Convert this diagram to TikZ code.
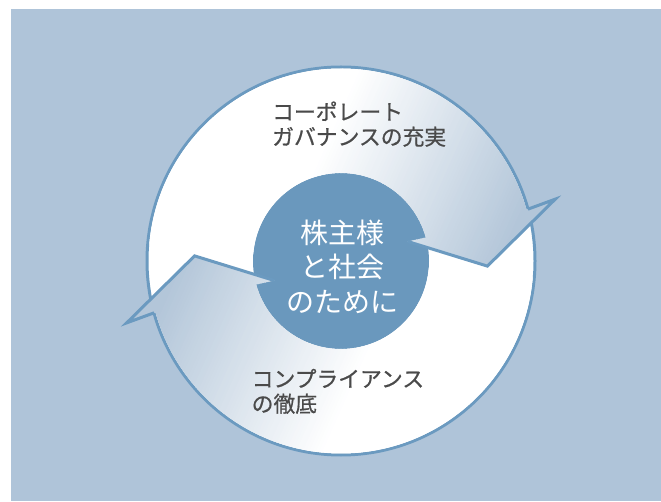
\documentclass[tikz,border=0pt]{standalone}
\usepackage{fontspec}
\newfontfamily\jpfont{Noto Sans CJK JP}[FakeBold=0.7]
\newfontfamily\jpcore{Noto Sans CJK JP}
\definecolor{bgblue}{HTML}{AFC4D9}
\definecolor{rimblue}{HTML}{6B9AC0}
\definecolor{coreblue}{HTML}{6A98BD}
\definecolor{fadeblue}{HTML}{B3C6D9}
\definecolor{labelgray}{HTML}{4A4A4A}
\begin{document}
\begin{tikzpicture}[x=1pt,y=1pt,
  rim/.style={draw=rimblue, line width=3pt},
  headedge/.style={draw=rimblue, line width=3pt, line join=miter, line cap=butt},
  label/.style={font=\jpfont\fontsize{21.8}{25}\selectfont, text=labelgray, align=left, inner sep=0pt, anchor=base west},
  core/.style={font=\jpcore\fontsize{28}{35}\selectfont, text=white, align=center, inner sep=0pt, anchor=base}]
\useasboundingbox (0,0) rectangle (661,501);
\fill[white] (0,0) rectangle (661,501);
\fill[bgblue] (11,0) rectangle (661,492);
\coordinate (C) at (341,240);
\fill[white] (C) circle[radius=194];
\draw[rim] (C) circle[radius=194];
\fill[coreblue] (C) circle[radius=88];
\begin{scope}[shift={(341,240)}]
  % upper arrow fill
  \begin{scope}
    \clip (175:192.5) arc[start angle=175, end angle=15.5, radius=192.5]
      -- (16.1:223) -- (-2:146.5) -- (16.3:69.5) -- (15.5:88)
      arc[start angle=15.5, end angle=175, radius=88] -- cycle;
    \begin{scope}[rotate=-24]
      \fill[white] (-300,-300) rectangle (-63,300);
      \foreach \i [evaluate=\i as \p using {int(\i*100/69)}] in {0,...,69}
        \fill[fadeblue!\p!white] ({-63+\i*3},-300) rectangle ({-63+\i*3+3.6},300);
      \fill[fadeblue] (147,-300) rectangle (300,300);
    \end{scope}
  \end{scope}
  % lower arrow fill
  \begin{scope}
    \clip (355:192.5) arc[start angle=355, end angle=195.5, radius=192.5]
      -- (196.1:223) -- (178:146.5) -- (196.3:69.5) -- (195.5:88)
      arc[start angle=195.5, end angle=355, radius=88] -- cycle;
    \begin{scope}[rotate=156]
      \fill[white] (-300,-300) rectangle (-63,300);
      \foreach \i [evaluate=\i as \p using {int(\i*100/69)}] in {0,...,69}
        \fill[fadeblue!\p!white] ({-63+\i*3},-300) rectangle ({-63+\i*3+3.6},300);
      \fill[fadeblue] (147,-300) rectangle (300,300);
    \end{scope}
  \end{scope}
  \draw[headedge] (15.5:194) -- (16.1:223) -- (-2:146.5) -- (16.3:69.5);
  \draw[headedge] (195.5:194) -- (196.1:223) -- (178:146.5) -- (196.3:69.5);
\end{scope}
\node[label] (gov) at (272,356) {コーポレート\\ガバナンスの充実};
\node[label] (comp) at (251.5,89) {コンプライアンス\\の徹底};
\node[core] (center) at (342.5,188) {株主様\\と社会\\のために};
\end{tikzpicture}
\end{document}
